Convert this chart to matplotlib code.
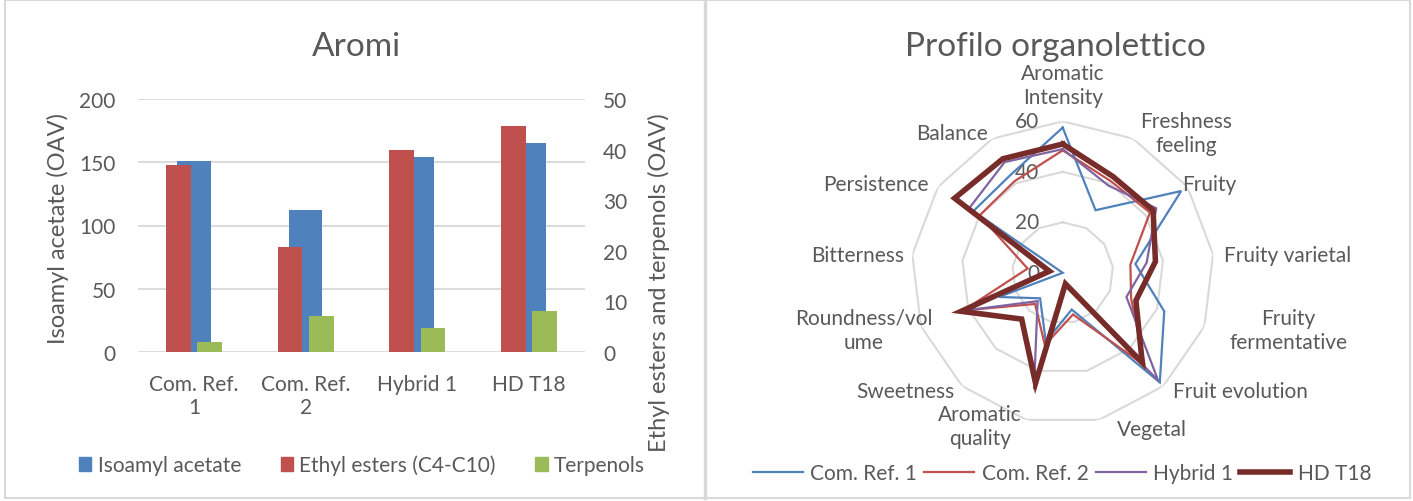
import matplotlib.pyplot as plt
import numpy as np
from matplotlib.lines import Line2D
from matplotlib.patches import Patch

plt.rcParams['font.family'] = ['Lato', 'DejaVu Sans']
TXT = '#595959'
GRID = '#D9D9D9'

# --- Aromi (bar chart) ---
campioni = ['Com. Ref.\n1', 'Com. Ref.\n2', 'Hybrid 1', 'HD T18']
isoamyl_acetate = [151, 112, 154, 165]        # left axis
ethyl_esters = [37.0, 20.7, 40.0, 44.7]       # right axis
terpenols = [2.0, 7.2, 4.8, 8.1]              # right axis

# --- Profilo organolettico (radar) ---
descrittori = ['Aromatic\nIntensity', 'Freshness\nfeeling', 'Fruity', 'Fruity varietal',
               'Fruity\nfermentative', 'Fruit evolution', 'Vegetal', 'Aromatic\nquality',
               'Sweetness', 'Roundness/vol\nume', 'Bitterness', 'Persistence', 'Balance']
com_ref_1 = [57.5, 28, 57, 29, 43, 58, 15, 28, 13.5, 27, 0, 43, 44]
com_ref_2 = [48.5, 41, 42, 27, 29, 49, 17, 29.5, 16.5, 42, 14, 40, 41]
hybrid_1 = [49, 39, 45, 33.5, 27, 57, 5, 47.5, 15, 42.5, 5.5, 45, 49.5]
hd_t18 = [51, 43, 43.5, 37, 31, 47.5, 4.5, 45, 24.5, 43, 5.3, 52, 51]
radar_ticks = [0, 20, 40, 60]

W, H = 1413, 502
fig = plt.figure(figsize=(W / 100, H / 100), dpi=100)


def fx(px):
    return px / W


def fy(py):
    return 1 - py / H


# panel frames
for x0, y0, x1, y1, lw in [(5, 1, 1410, 1, 1.5), (5, 1, 5, 499, 1.5), (705, 1, 705, 499, 2.5),
                           (1410, 1, 1410, 499, 1.5), (5, 499, 1410, 499, 1.5)]:
    fig.add_artist(Line2D([fx(x0), fx(x1)], [fy(y0), fy(y1)], color=GRID, lw=lw))

# ---------------- bar chart ----------------
ax = fig.add_axes([fx(138), fy(353), fx(585) - fx(138), fy(100) - fy(353)])
x = np.arange(len(campioni))
ax.bar(x, isoamyl_acetate, 0.30, color='#4F81BD', zorder=2)
ax.set_ylim(0, 200)
ax.set_yticks(range(0, 201, 50))
ax.set_xlim(-0.5, len(campioni) - 0.5)
ax.set_xticks(x)
ax.set_xticklabels(campioni, linespacing=1.2)
ax.grid(axis='y', color=GRID, lw=1.3, zorder=0)
ax.set_axisbelow(True)

ax2 = ax.twinx()
ax2.bar(x - 0.14, ethyl_esters, 0.22, color='#C0504D', zorder=2)
ax2.bar(x + 0.14, terpenols, 0.22, color='#9BBB59', zorder=2)
ax2.set_ylim(0, 50)
ax2.set_yticks(range(0, 51, 10))

for a in (ax, ax2):
    for s in a.spines.values():
        s.set_visible(False)
    a.tick_params(length=0, labelsize=15, colors=TXT)
ax.tick_params(axis='y', pad=16)
ax.tick_params(axis='x', pad=16)
ax2.tick_params(axis='y', pad=13)

fig.text(fx(356), fy(47), 'Aromi', fontsize=24, color=TXT, ha='center', va='center')
fig.text(fx(58), fy(228), 'Isoamyl acetate (OAV)', fontsize=17, color=TXT,
         rotation=90, ha='center', va='center')
fig.text(fx(659), fy(283), 'Ethyl esters and terpenols (OAV)', fontsize=17, color=TXT,
         rotation=90, ha='center', va='center')

bar_handles = [Patch(color='#4F81BD'), Patch(color='#C0504D'), Patch(color='#9BBB59')]
fig.legend(bar_handles, ['Isoamyl acetate', 'Ethyl esters (C4-C10)', 'Terpenols'],
           loc='center', bbox_to_anchor=(fx(362), fy(466)), ncol=3, frameon=False,
           fontsize=15, labelcolor=TXT, handlelength=0.6, handleheight=0.6,
           handletextpad=0.3, columnspacing=1.9)

# ---------------- radar ----------------
cx, cy, R = 1062.7, 273.8, 151.5
rax = fig.add_axes([fx(cx - R), fy(cy + R), 2 * R / W, 2 * R / H], projection='polar')
rax.set_theta_offset(np.pi / 2)
rax.set_theta_direction(-1)
rax.set_ylim(0, 60)
rax.grid(False)
rax.spines['polar'].set_visible(False)
rax.set_xticks([])
rax.set_yticks([])
rax.patch.set_alpha(0)

ang = np.arange(len(descrittori)) * 2 * np.pi / len(descrittori)
ang_c = np.r_[ang, ang[0]]
for r in radar_ticks[1:]:
    rax.plot(ang_c, [r] * len(ang_c), color=GRID, lw=1.5, zorder=1)
for r in radar_ticks:
    rax.annotate(str(r), xy=(0, r), xytext=(-17, 0), textcoords='offset points',
                 ha='right', va='center', fontsize=15, color=TXT, zorder=1,
                 annotation_clip=False)

series = [('Com. Ref. 1', com_ref_1, '#4F81BD', 1.6),
          ('Com. Ref. 2', com_ref_2, '#C0504D', 1.6),
          ('Hybrid 1', hybrid_1, '#8064A2', 1.6),
          ('HD T18', hd_t18, '#772C2A', 4.0)]
lines = []
for name, vals, col, lw in series:
    ln, = rax.plot(ang_c, np.r_[vals, vals[0]], color=col, lw=lw, label=name,
                   solid_joinstyle='miter', zorder=3, clip_on=False)
    lines.append(ln)

# label centres around the radar (pixels)
label_pos = [(1063, 86), (1186, 134), (1209, 185), (1288, 256), (1288, 331), (1240, 392),
             (1152, 430), (980, 427), (905, 392), (864, 331), (858, 256), (876, 185),
             (952, 134)]
for lab, (px, py) in zip(descrittori, label_pos):
    fig.text(fx(px), fy(py), lab, fontsize=15, color=TXT, ha='center', va='center',
             linespacing=1.25)

fig.text(fx(1055), fy(47), 'Profilo organolettico', fontsize=24, color=TXT,
         ha='center', va='center')

fig.legend(lines, [s[0] for s in series], loc='center', bbox_to_anchor=(fx(1062), fy(474)),
           ncol=4, frameon=False, fontsize=15, labelcolor=TXT, handlelength=2.4,
           handletextpad=0.35, columnspacing=0.35)

fig.savefig('out.png', dpi=100, facecolor='white')
